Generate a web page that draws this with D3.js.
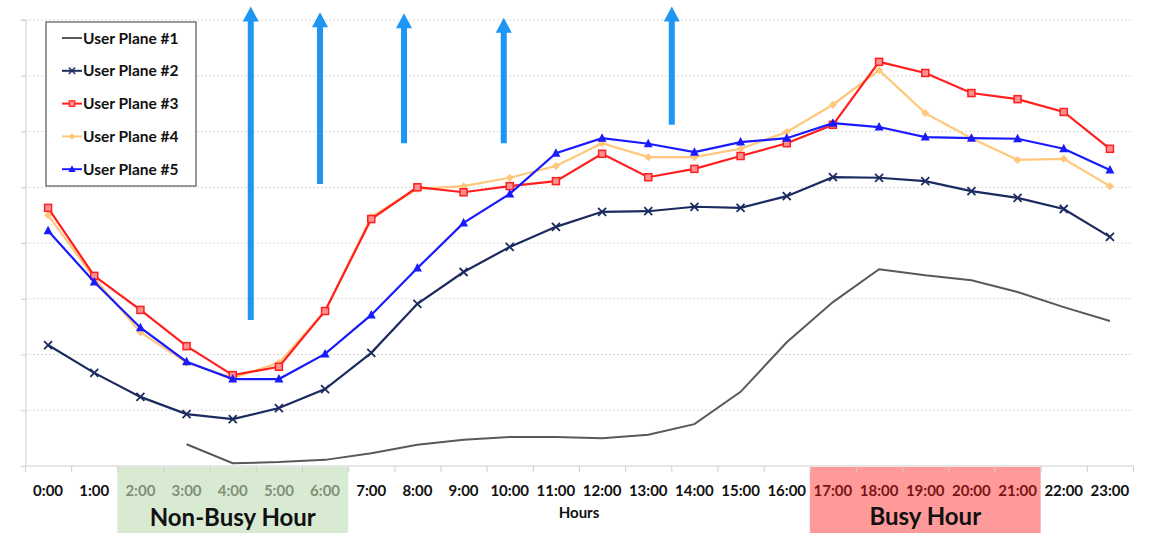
<!DOCTYPE html>
<html><head><meta charset="utf-8">
<script src="https://cdn.jsdelivr.net/npm/d3@7"></script>
<style>body{margin:0;background:#fff}svg{display:block}text{font-family:Lato,"Open Sans",sans-serif}</style>
</head><body>
<svg id="c" width="1155" height="536"></svg>
<script>
const hours = ["0:00","1:00","2:00","3:00","4:00","5:00","6:00","7:00","8:00","9:00","10:00","11:00","12:00","13:00","14:00","15:00","16:00","17:00","18:00","19:00","20:00","21:00","22:00","23:00"];
const up1 = [null,null,null,0.39,0.05,0.07,0.11,0.23,0.38,0.47,0.52,0.52,0.50,0.56,0.75,1.33,2.22,2.94,3.53,3.42,3.33,3.12,2.85,2.60];
const up2 = [2.17,1.67,1.24,0.93,0.84,1.04,1.38,2.03,2.91,3.48,3.93,4.29,4.56,4.57,4.65,4.63,4.84,5.18,5.17,5.11,4.93,4.81,4.61,4.11];
const up3 = [4.63,3.41,2.80,2.15,1.63,1.78,2.78,4.43,5.00,4.91,5.02,5.11,5.60,5.18,5.33,5.56,5.79,6.12,7.25,7.05,6.69,6.58,6.35,5.69];
const up4 = [4.50,3.37,2.40,1.85,1.58,1.85,2.78,4.47,4.97,5.02,5.17,5.38,5.79,5.54,5.54,5.69,5.99,6.48,7.10,6.33,5.88,5.49,5.51,5.02];
const up5 = [4.22,3.30,2.48,1.87,1.56,1.56,2.01,2.71,3.55,4.36,4.88,5.61,5.88,5.78,5.63,5.81,5.88,6.15,6.08,5.90,5.88,5.87,5.69,5.31];
const seriesNames = ["User Plane #1","User Plane #2","User Plane #3","User Plane #4","User Plane #5"];
const yTicks = [0,1,2,3,4,5,6,7,8];
const nonBusy = [2,6];
const busy = [17,21];
// annotation arrows: x in hour units, from value y0 up to y1
const arrowX = [4.39,5.89,7.71,9.87,13.51];
const arrowY0 = [2.62,5.06,5.79,5.79,6.12];
const arrowY1 = [8.24,8.14,8.12,8.04,8.24];

const svg = d3.select("#c");
const x = d3.scaleLinear().domain([-0.5,23.5]).range([25,1133]);
const y = d3.scaleLinear().domain([0,8]).range([466,20]);

// highlight boxes
svg.append("rect").attr("x",x(nonBusy[0]-0.5)).attr("y",467).attr("width",x(nonBusy[1]+0.5)-x(nonBusy[0]-0.5)).attr("height",66).attr("fill","#d9ead3");
svg.append("rect").attr("x",x(busy[0]-0.5)).attr("y",467).attr("width",x(busy[1]+0.5)-x(busy[0]-0.5)).attr("height",66).attr("fill","#ff9a9a");

// gridlines
svg.append("g").selectAll("line").data(yTicks.slice(1)).join("line")
  .attr("x1",x(-0.5)).attr("x2",x(23.5)).attr("y1",d=>y(d)).attr("y2",d=>y(d))
  .attr("stroke","#d9d9d9").attr("stroke-dasharray","2,2").attr("stroke-width",1);

// y axis
const ya = svg.append("g").attr("transform",`translate(${x(-0.5)+1},0)`).call(d3.axisLeft(y).tickValues(yTicks).tickSize(5).tickFormat(""));
ya.selectAll("path,line").attr("stroke","#cfcfcf");
ya.select(".domain").attr("d",`M-5,${y(8)}H0V${y(0)}`);
// x axis
const xa = svg.append("g").attr("transform",`translate(0,${y(0)})`).call(d3.axisBottom(x).tickValues(d3.range(-0.5,24,1)).tickSize(6).tickFormat(""));
xa.selectAll("path,line").attr("stroke","#cfcfcf");
xa.select(".domain").attr("d",`M${x(-0.5)},0H${x(23.5)}`);

// x labels
svg.append("g").selectAll("text").data(hours).join("text")
  .attr("x",(d,i)=>x(i)).attr("y",496).attr("text-anchor","middle")
  .attr("font-size",15).attr("font-weight","bold")
  .attr("fill",(d,i)=> (i>=nonBusy[0]&&i<=nonBusy[1])?"#7e9178":(i>=busy[0]&&i<=busy[1])?"#7a1414":"#111")
  .text(d=>d);
svg.append("text").attr("x",x(11.5)).attr("y",518).attr("text-anchor","middle").attr("font-size",15).attr("font-weight","bold").attr("fill","#111").text("Hours");
svg.append("text").attr("x",(x(nonBusy[0]-0.5)+x(nonBusy[1]+0.5))/2).attr("y",526).attr("text-anchor","middle").attr("font-size",24).attr("font-weight","bold").attr("fill","#111").text("Non-Busy Hour");
svg.append("text").attr("x",(x(busy[0]-0.5)+x(busy[1]+0.5))/2).attr("y",525).attr("text-anchor","middle").attr("font-size",24).attr("font-weight","bold").attr("fill","#111").text("Busy Hour");

// series
const colors = ["#595959","#1c2b5f","#ff1f1f","#ffc77a","#1a1aff"];
const data = [up1,up2,up3,up4,up5];
const line = d3.line().defined(d=>d!=null).x((d,i)=>x(i)).y(d=>y(d));
const markerFns = [
  null,
  (g,c)=>g.append("path").attr("d","M-4,-4L4,4M-4,4L4,-4").attr("stroke",c).attr("stroke-width",1.8).attr("fill","none"),
  (g,c)=>g.append("rect").attr("x",-3.5).attr("y",-3.5).attr("width",7).attr("height",7).attr("fill","#ff9090").attr("stroke",c).attr("stroke-width",1.5),
  (g,c)=>g.append("path").attr("d","M0,-4L4,0L0,4L-4,0Z").attr("fill",c),
  (g,c)=>g.append("path").attr("d","M0,-5L4.5,3.5L-4.5,3.5Z").attr("fill",c)
];
const order = [0,1,3,2,4];
order.forEach(k=>{
  svg.append("path").datum(data[k]).attr("d",line).attr("fill","none").attr("stroke",colors[k]).attr("stroke-width",k===0?2:2.2);
  if(markerFns[k]){
    data[k].forEach((v,i)=>{ if(v==null) return;
      const g = svg.append("g").attr("transform",`translate(${x(i)},${y(v)})`);
      markerFns[k](g,colors[k]);
    });
  }
});

// arrows
const ag = svg.append("g");
arrowX.forEach((h,i)=>{
  const cx = x(h), yb = y(arrowY0[i]), yt = y(arrowY1[i]);
  ag.append("path").attr("d",`M${cx-3},${yb}V${yt+15}H${cx-8}L${cx},${yt}L${cx+8},${yt+15}H${cx+3}V${yb}Z`).attr("fill","#1e96f3");
});

// legend
const lg = svg.append("g");
lg.append("rect").attr("x",46).attr("y",22).attr("width",150).attr("height",164).attr("fill","#fff").attr("stroke","#555").attr("stroke-width",1.2);
seriesNames.forEach((n,i)=>{
  const yy = 38 + i*32.8;
  lg.append("line").attr("x1",62).attr("x2",82).attr("y1",yy).attr("y2",yy).attr("stroke",colors[i]).attr("stroke-width",2);
  if(markerFns[i]){ const g = lg.append("g"); markerFns[i](g,colors[i]); g.attr("transform",`translate(72,${yy}) scale(0.8)`); }
  lg.append("text").attr("x",83).attr("y",yy+5.5).attr("font-size",15.5).attr("font-weight","bold").attr("fill","#111").text(n);
});
</script>
</body></html>
